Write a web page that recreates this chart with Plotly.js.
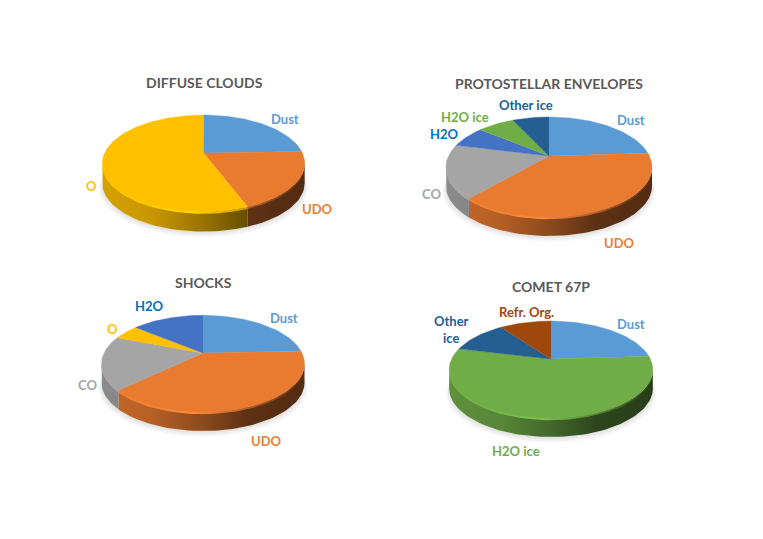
<!DOCTYPE html>
<html>
<head>
<meta charset="utf-8">
<script src="https://cdn.plot.ly/plotly-3.0.1.min.js"></script>
<style>
  html, body { margin: 0; padding: 0; background: #fff; }
  #chart { width: 763px; height: 539px; }
</style>
</head>
<body>
<div id="chart"></div>
<script>
// Values (percent, clockwise from 12 o'clock)
const diffuseLabels = ["Dust", "UDO", "O"];
const diffuseValues = [24.5, 19.7, 55.8];
const diffuseColors = ["#5B9BD5", "#E97B31", "#FFC000"];

const protoLabels = ["Dust", "UDO", "CO", "H2O", "H2O ice", "Other ice"];
const protoValues = [24.1, 37.5, 17.2, 7, 7.1, 7.1];
const protoColors = ["#5B9BD5", "#E97B31", "#A5A5A5", "#4472C4", "#70AD47", "#255E91"];

const shocksLabels = ["Dust", "UDO", "CO", "O", "H2O"];
const shocksValues = [24.4, 38.5, 17.9, 5.1, 14.1];
const shocksColors = ["#5B9BD5", "#E97B31", "#A5A5A5", "#FFC000", "#4472C4"];

const cometLabels = ["Dust", "H2O ice", "Other<br>ice", "Refr. Org."];
const cometValues = [24, 54.7, 11.2, 10.1];
const cometColors = ["#5B9BD5", "#70AD47", "#255E91", "#9E480E"];

const W = 763, H = 539;
const FONT = "Lato, 'Open Sans', sans-serif";

// Where each pie sits on the page, cx/cy = apex in pixels, a/b/k = perspective
const pies = [
  {title: "DIFFUSE CLOUDS", labels: diffuseLabels, values: diffuseValues, colors: diffuseColors,
   cx: 203.5, cy: 153, a: 98.9, b: 46.1, k: 0.2126, depth: 20, titlePos: [0.5, 71],
   labelPos: [[81, 34], [114, -56], [-112, -33]], labelColors: ["#5B9BD5", "#ED7D31", "#FFC000"]},
  {title: "PROTOSTELLAR ENVELOPES", labels: protoLabels, values: protoValues, colors: protoColors,
   cx: 549, cy: 156, a: 100.5, b: 47.6, k: 0.22, depth: 19, titlePos: [0, 73],
   labelPos: [[82, 36], [70, -87], [-118, -38], [-105, 22], [-84, 39], [-23, 51]],
   labelColors: ["#5B9BD5", "#ED7D31", "#A5A5A5", "#0070C0", "#70AD47", "#255E91"]},
  {title: "SHOCKS", labels: shocksLabels, values: shocksValues, colors: shocksColors,
   cx: 203, cy: 353, a: 99, b: 46, k: 0.22, depth: 19, titlePos: [0, 71],
   labelPos: [[81, 35], [63, -88], [-116, -32], [-91, 24], [-54, 47]],
   labelColors: ["#5B9BD5", "#ED7D31", "#A5A5A5", "#FFC000", "#0070C0"]},
  {title: "COMET 67P", labels: cometLabels, values: cometValues, colors: cometColors,
   cx: 551, cy: 359, a: 99.4, b: 46.2, k: 0.2166, depth: 19, titlePos: [0, 72],
   labelPos: [[80, 35], [-35, -92], [-100, 29], [-25, 47]],
   labelColors: ["#5B9BD5", "#70AD47", "#255E91", "#9E480E"]}
];

function hexRgb(c) {
  return [1, 3, 5].map(i => parseInt(c.substr(i, 2), 16));
}
function shade(c, f, alpha) {
  const rgb = hexRgb(c).map(v => Math.round(Math.min(255, v * f)));
  return alpha === undefined ? `rgb(${rgb})` : `rgba(${rgb},${alpha})`;
}

// Angle on the disc to a point on the tilted ellipse
function rim(p, deg, down) {
  const t = deg * Math.PI / 180;
  const w = 1 + p.k * Math.cos(t);
  return [p.a * Math.sin(t) / w, p.b * Math.cos(t) / w - (down || 0)];
}
function arc(p, from, to, down) {
  const pts = [];
  const steps = Math.max(2, Math.ceil(Math.abs(to - from) / 2));
  for (let i = 0; i <= steps; i++) pts.push(rim(p, from + (to - from) * i / steps, down));
  return pts;
}
function area(pts, ax, extra) {
  return Object.assign({
    type: "scatter", mode: "lines", fill: "toself",
    x: pts.map(q => q[0]), y: pts.map(q => q[1]),
    xaxis: ax.x, yaxis: ax.y, hoverinfo: "skip", showlegend: false,
    line: {width: 0}
  }, extra);
}

const traces = [];
const layout = {
  width: W, height: H,
  margin: {l: 0, r: 0, t: 0, b: 0},
  paper_bgcolor: "#fff", plot_bgcolor: "rgba(0,0,0,0)",
  showlegend: false,
  annotations: []
};

pies.forEach((p, n) => {
  const id = n === 0 ? "" : String(n + 1);
  const ax = {x: "x" + id, y: "y" + id};
  const halfW = 140, up = 90, down = 105;
  layout["xaxis" + id] = {domain: [(p.cx - halfW) / W, (p.cx + halfW) / W], range: [-halfW, halfW],
    visible: false, fixedrange: true};
  layout["yaxis" + id] = {domain: [1 - (p.cy + down) / H, 1 - (p.cy - up) / H], range: [-down, up],
    visible: false, fixedrange: true};

  const rx = p.a / Math.sqrt(1 - p.k * p.k);
  const frontStart = Math.acos(-p.k) * 180 / Math.PI;
  const frontEnd = 360 - frontStart;

  // soft shadow under the disc
  for (let i = 0; i < 5; i++) {
    const pts = arc(p, 0, 360, p.depth + 1 + i * 1.2).map(q => [q[0] * (1 + i * 0.008), q[1]]);
    traces.push(area(pts, ax, {fillcolor: "rgba(0,0,0,0.022)"}));
  }

  // side wall and bevel of every slice that reaches the front
  let start = 0;
  const total = p.values.reduce((s, v) => s + v, 0);
  const angles = p.values.map(v => {
    const a0 = start;
    start += v / total * 360;
    return [a0, start];
  });
  angles.forEach((ang, i) => {
    const from = Math.max(ang[0], frontStart), to = Math.min(ang[1], frontEnd);
    if (to <= from) return;
    const c = p.colors[i];
    const wall = arc(p, from, to, 0).concat(arc(p, to, from, p.depth));
    traces.push(area(wall, ax, {fillgradient: {type: "horizontal", start: -rx, stop: rx,
      colorscale: [[0, shade(c, 0.84)], [0.25, shade(c, 0.78)], [0.5, shade(c, 0.6)],
                   [0.72, shade(c, 0.4)], [1, shade(c, 0.36)]]}}));
    const band = arc(p, from, to, -1).concat(arc(p, to, from, 2.2));
    traces.push(area(band, ax, {fillgradient: {type: "horizontal", start: -rx, stop: rx,
      colorscale: [[0, shade(c, 1.02, 0.9)], [0.45, shade(c, 1.12, 1)], [0.7, shade(c, 0.95, 0.7)],
                   [1, shade(c, 0.8, 0.2)]]}}));
  });

  // top face
  angles.forEach((ang, i) => {
    const pts = [[0, 0]].concat(arc(p, ang[0], ang[1], 0));
    traces.push(area(pts, ax, {fillcolor: p.colors[i], line: {width: 0.4, color: p.colors[i]}}));
  });

  // title and slice labels
  layout.annotations.push({
    xref: ax.x, yref: ax.y, x: p.titlePos[0], y: p.titlePos[1], text: "<b>" + p.title + "</b>",
    showarrow: false, font: {family: FONT, size: 14, color: "#595959"}
  });
  p.labels.forEach((lab, i) => {
    layout.annotations.push({
      xref: ax.x, yref: ax.y, x: p.labelPos[i][0], y: p.labelPos[i][1], text: "<b>" + lab + "</b>",
      showarrow: false, font: {family: FONT, size: 13, color: p.labelColors[i]}
    });
  });
});

Plotly.newPlot("chart", traces, layout, {staticPlot: true, displayModeBar: false});
</script>
</body>
</html>
